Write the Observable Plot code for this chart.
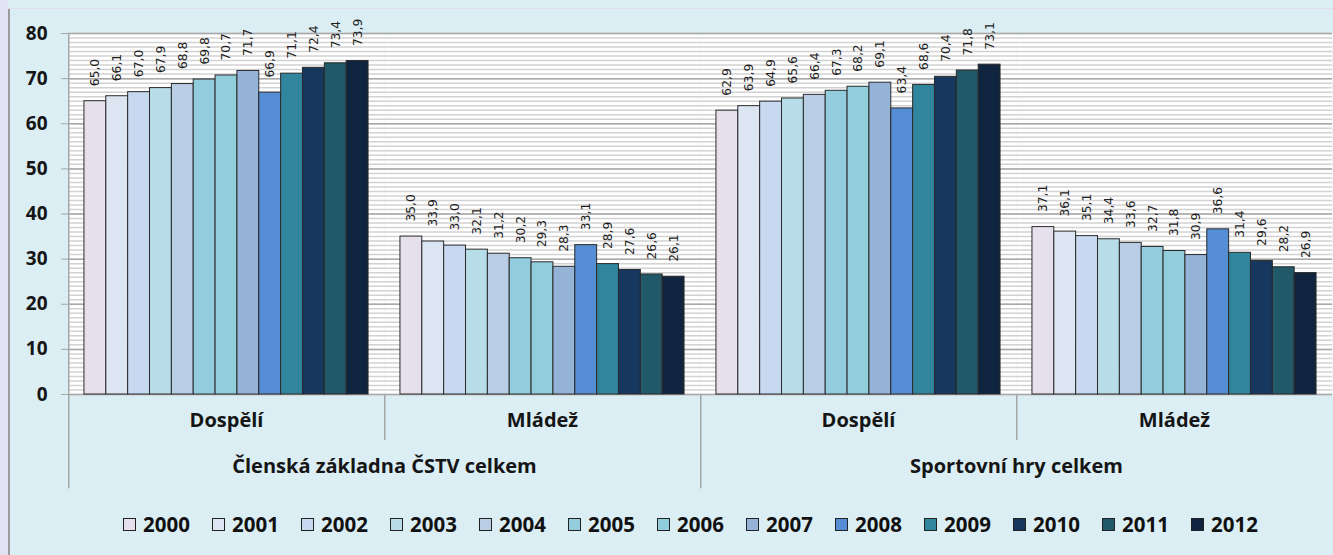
<!DOCTYPE html>
<html>
<head>
<meta charset="utf-8">
<script src="https://cdn.jsdelivr.net/npm/d3@7"></script>
<script src="https://cdn.jsdelivr.net/npm/@observablehq/plot@0.6"></script>
<style>
html, body { margin: 0; padding: 0; }
body { width: 1333px; height: 555px; background: #dbeef4; position: relative; overflow: hidden; font-family: "Open Sans", sans-serif; }
#lstrip { position: absolute; left: 0; top: 0; width: 8px; height: 555px; background: #e3e2f5; }
#tline { position: absolute; left: 8px; top: 8px; right: 0; height: 1px; background: #e4ddf0; }
#vline { position: absolute; left: 8px; top: 9px; width: 2px; bottom: 0; background: #9b9b9b; }
#chart { position: absolute; left: 0; top: 0; }
#legend { position: absolute; left: 123px; top: 512px; display: flex; }
.item { width: 89px; display: flex; align-items: center; height: 24px; }
.sw { width: 11px; height: 11px; border: 1px solid #222; margin-right: 7px; box-sizing: content-box; }
.lt { font-size: 20.5px; font-weight: bold; color: #111; line-height: 24px; }
</style>
</head>
<body>
<div id="lstrip"></div>
<div id="tline"></div>
<div id="vline"></div>
<div id="chart"></div>
<div id="legend"></div>
<script>
const groups = ["Členská základna ČSTV celkem", "Sportovní hry celkem"];
const subgroups = ["Dospělí", "Mládež"];
const years = ["2000","2001","2002","2003","2004","2005","2006","2007","2008","2009","2010","2011","2012"];
const colors = ["#e6e0ec","#dce6f2","#c6d9f1","#b7dee8","#b9cde5","#93cddd","#92cddc","#95b3d7","#558ed5","#31859c","#17375e","#215968","#10243f"];

const clenDospeli   = [65.0,66.1,67.0,67.9,68.8,69.8,70.7,71.7,66.9,71.1,72.4,73.4,73.9];
const clenMladez    = [35.0,33.9,33.0,32.1,31.2,30.2,29.3,28.3,33.1,28.9,27.6,26.6,26.1];
const sportDospeli  = [62.9,63.9,64.9,65.6,66.4,67.3,68.2,69.1,63.4,68.6,70.4,71.8,73.1];
const sportMladez   = [37.1,36.1,35.1,34.4,33.6,32.7,31.8,30.9,36.6,31.4,29.6,28.2,26.9];

const yMajor = [0,10,20,30,40,50,60,70,80];
const yMinor = d3.range(0, 81, 1);

const panels = [
  {group: groups[0], sub: subgroups[0], values: clenDospeli, first: true},
  {group: groups[0], sub: subgroups[1], values: clenMladez, first: false},
  {group: groups[1], sub: subgroups[0], values: sportDospeli, first: true},
  {group: groups[1], sub: subgroups[1], values: sportMladez, first: false}
].map(p => ({...p, key: p.group + "|" + p.sub}));
const keys = panels.map(p => p.key);
const data = panels.flatMap(p => p.values.map((v, i) => ({key: p.key, year: years[i], value: v})));
const fmt = v => v.toFixed(1).replace(".", ",");

const W = 1333, ML = 68, MR = 1;
const panelW = (W - ML - MR) / keys.length;
const sepColor = "#a6a6a6";
const textColor = "#151515";

const chart = Plot.plot({
  width: W, height: 500,
  marginLeft: ML, marginRight: MR, marginTop: 33, marginBottom: 106,
  style: {background: "transparent", overflow: "visible", color: textColor},
  fx: {domain: keys, padding: 0, axis: null, round: false},
  x: {domain: years, paddingInner: 0, paddingOuter: 0.73, axis: null, round: false},
  y: {domain: [0, 80], axis: null},
  color: {domain: years, range: colors},
  marks: [
    Plot.frame({fill: "white", stroke: null}),
    Plot.ruleY(yMinor, {stroke: "#d2d2d2", strokeWidth: 1.5}),
    Plot.ruleY(yMajor, {stroke: "#a8a8a8", strokeWidth: 1.5}),
    Plot.barY(data, {fx: "key", x: "year", y: "value", fill: "year", stroke: "#2a2a2a", strokeWidth: 1}),
    Plot.text(data, {fx: "key", x: "year", y: "value", text: d => fmt(d.value), rotate: -90, textAnchor: "start", dy: -15, fontSize: 12.3, fontFamily: "DejaVu Sans", fill: "#1e1e1e"}),
    Plot.axisY({ticks: yMajor, tickSize: 7, tickPadding: 14, fontSize: 19, fontWeight: "bold", stroke: sepColor, fill: textColor, label: null, fontFamily: "Open Sans"}),
    // separators below the axis
    Plot.rect(panels.filter(p => !p.first), {fx: "key", y1: 0, y2: -10.2, fill: sepColor, insetRight: panelW - 1.5}),
    Plot.rect(panels.filter(p => p.first && p.group === groups[1]), {fx: "key", y1: 0, y2: -20.9, fill: sepColor, insetRight: panelW - 1.5}),
    Plot.rect(panels.filter(p => p.first && p.group === groups[0]), {fx: "key", y1: 80, y2: -20.9, fill: sepColor, insetRight: panelW - 1.5}),
    Plot.text(panels, {fx: "key", text: "sub", frameAnchor: "bottom", dy: 32, fontSize: 20, fontWeight: "bold", fill: textColor, fontFamily: "Open Sans"}),
    Plot.text(panels.filter(p => p.first), {fx: "key", text: "group", frameAnchor: "bottom-right", textAnchor: "middle", dy: 78, fontSize: 20, fontWeight: "bold", fill: textColor, fontFamily: "Open Sans"})
  ]
});
document.getElementById("chart").appendChild(chart);

const legend = document.getElementById("legend");
years.forEach((y, i) => {
  const it = document.createElement("div");
  it.className = "item";
  it.innerHTML = `<div class="sw" style="background:${colors[i]}"></div><span class="lt">${y}</span>`;
  legend.appendChild(it);
});
</script>
</body>
</html>
